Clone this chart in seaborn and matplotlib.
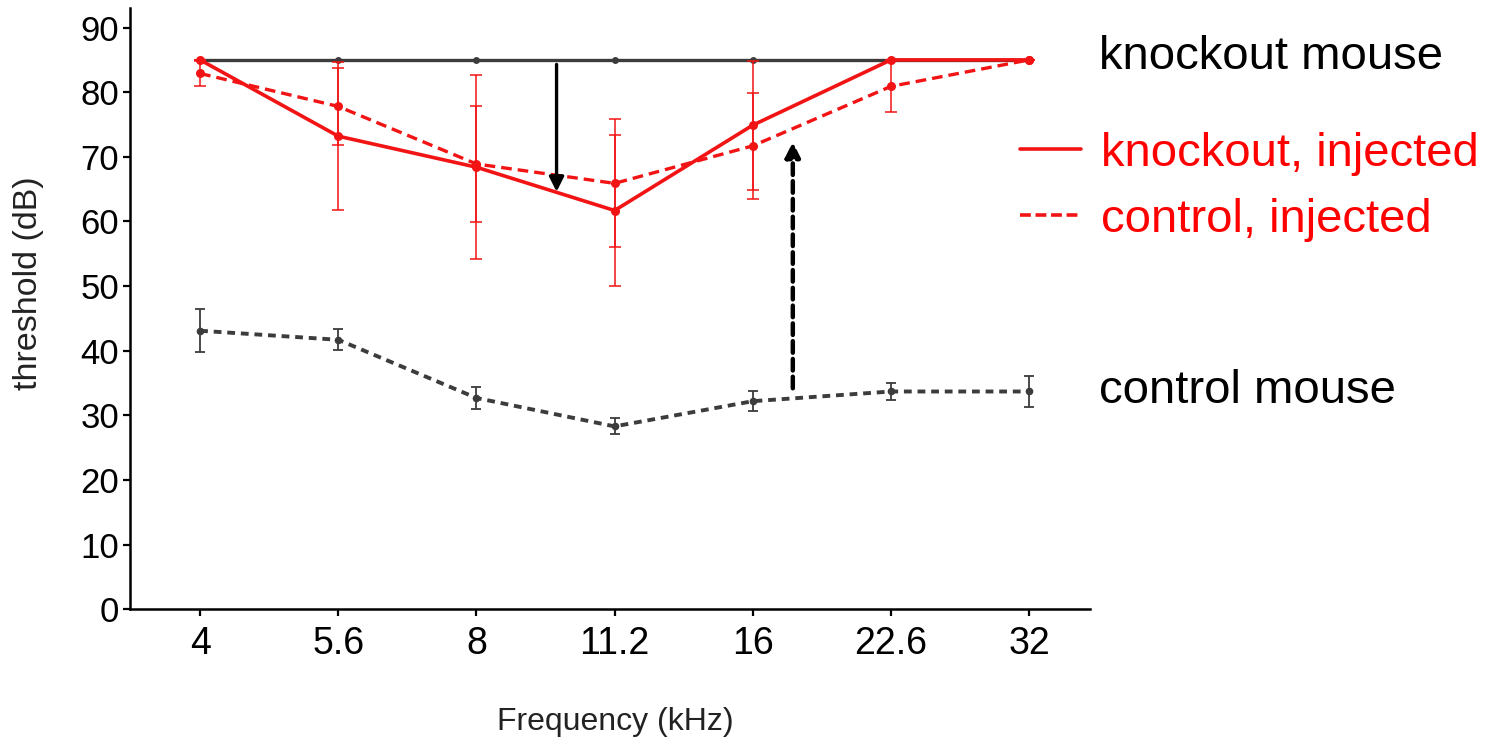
import numpy as np
import pandas as pd
import matplotlib.pyplot as plt
import seaborn as sns
from matplotlib.lines import Line2D

# -------------------------------------
# Data
# -------------------------------------
freqs = ["4", "5.6", "8", "11.2", "16", "22.6", "32"]

ko_mouse = [85, 85, 85, 85, 85, 85, 85]

ctrl_mouse = [43.1, 41.7, 32.7, 28.3, 32.2, 33.7, 33.7]
ctrl_mouse_err = [3.3, 1.6, 1.65, 1.25, 1.55, 1.35, 2.4]

ko_inj = [85, 73.2, 68.4, 61.7, 74.9, 85, 85]
ko_inj_err = [0, 11.4, 14.2, 11.7, 10.0, 0, 0]

ctrl_inj = [82.9, 77.8, 68.9, 65.9, 71.7, 80.9, 85]
ctrl_inj_err = [2.0, 5.9, 9.0, 9.9, 8.2, 4.0, 0]

RED = "#f21414"
DARK = "#3c3c3c"

sns.set_style("ticks")
plt.rcParams["font.family"] = ["Liberation Sans", "DejaVu Sans"]

fig, ax = plt.subplots(figsize=(14.95, 7.44), dpi=100)
fig.subplots_adjust(left=0.087, right=0.729, bottom=0.181, top=0.989)

xpos = np.arange(len(freqs))

# knockout mouse (flat)
sns.lineplot(x=xpos, y=ko_mouse, ax=ax, color=DARK, lw=2.4,
             marker="o", markersize=5, markeredgewidth=0)

# control mouse
sns.lineplot(x=xpos, y=ctrl_mouse, ax=ax, color=DARK, lw=2.8,
             linestyle=(0, (2.0, 1.5)), marker="o", markersize=5.5,
             markeredgewidth=0)
ax.errorbar(xpos, ctrl_mouse, yerr=ctrl_mouse_err, fmt="none",
            ecolor=DARK, elinewidth=1.3, capsize=3.5, capthick=1.3)

# control, injected
sns.lineplot(x=xpos, y=ctrl_inj, ax=ax, color=RED, lw=2.4,
             linestyle=(0, (3.2, 1.8)), marker="o", markersize=6.5,
             markeredgewidth=0)
ax.errorbar(xpos, ctrl_inj, yerr=ctrl_inj_err, fmt="none",
            ecolor=RED, elinewidth=1.1, capsize=4, capthick=1.1)

# knockout, injected
sns.lineplot(x=xpos, y=ko_inj, ax=ax, color=RED, lw=2.6,
             marker="o", markersize=6.5, markeredgewidth=0)
ax.errorbar(xpos, ko_inj, yerr=ko_inj_err, fmt="none",
            ecolor=RED, elinewidth=1.1, capsize=4, capthick=1.1)

# arrows
ax.annotate("", xy=(2.58, 64.6), xytext=(2.58, 84.3),
            arrowprops=dict(arrowstyle="-|>", color="black", lw=2.4,
                            mutation_scale=22, shrinkA=0, shrinkB=0))
ax.annotate("", xy=(4.29, 72.3), xytext=(4.29, 34.2),
            arrowprops=dict(arrowstyle="-|>", color="black", lw=3.2,
                            linestyle=(0, (2.6, 1.4)),
                            mutation_scale=22, shrinkA=0, shrinkB=0))

# axes styling
ax.set_xlim(-0.507, 6.44)
ax.set_ylim(0, 93)
ax.set_xticks(xpos)
ax.set_xticklabels(freqs)
ax.set_yticks(np.arange(0, 91, 10))
ax.tick_params(axis="both", direction="out", length=5,
               width=1.6, colors="black")
ax.tick_params(axis="y", pad=3, labelsize=25)
ax.tick_params(axis="x", pad=7, labelsize=27)
for s in ["left", "bottom"]:
    ax.spines[s].set_linewidth(1.8)
    ax.spines[s].set_color("black")
sns.despine(ax=ax)

ax.set_xlabel("Frequency (kHz)", fontsize=23, color="#222222")
ax.set_ylabel("threshold (dB)", fontsize=24.5, color="#222222")
ax.xaxis.set_label_coords(0.506, -0.163)
ax.yaxis.set_label_coords(-0.09, 0.542)

# group labels
trans = ax.get_yaxis_transform()
ax.text(1.01, 85.5, "knockout mouse", transform=trans, fontsize=34,
        va="center", ha="left", color="black", clip_on=False)
ax.text(1.01, 33.8, "control mouse", transform=trans, fontsize=34,
        va="center", ha="left", color="black", clip_on=False)

handles = [Line2D([], [], color=RED, lw=2.6),
           Line2D([], [], color=RED, lw=2.6, linestyle=(0, (3.0, 1.3)))]
ax.legend(handles, ["knockout, injected", "control, injected"],
          loc="upper left", bbox_to_anchor=(0.682, 0.823),
          bbox_transform=fig.transFigure, frameon=False, fontsize=34,
          labelcolor="#ff0000", handlelength=1.3, handletextpad=0.42,
          labelspacing=0.47, borderpad=0, borderaxespad=0)

plt.savefig("out.png", dpi=100)
